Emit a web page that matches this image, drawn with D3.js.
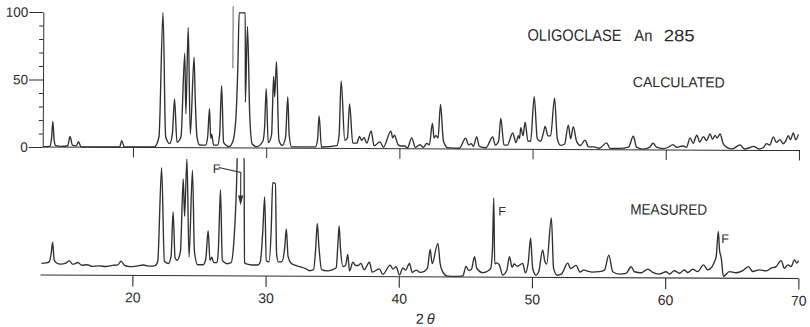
<!DOCTYPE html>
<html><head><meta charset="utf-8">
<script src="https://cdn.jsdelivr.net/npm/d3@7"></script>
<style>
body{margin:0;background:#fff}
svg{display:block}
text{font-family:"Liberation Sans",Arial,sans-serif;fill:#2a2a2a}
</style>
</head><body><svg id="c" width="810" height="327"></svg>
<script>
// ---- data: [2theta, intensity] ----
const calculated = [
[13.3,0.3],[13.75,0.5],[13.88,6],[13.97,19],[14.08,5],[14.2,1],[14.6,0.5],[15.1,1],[15.27,8],[15.45,1.5],[15.75,1],[15.9,4],[16.1,0.3],[19.0,0.3],[19.15,5],[19.35,0.3],
[21.6,0.5],[21.95,8],[22.2,100],[22.45,8],[22.75,3],[22.95,10],[23.1,36],[23.3,4],[23.6,8],[23.85,70],[23.96,25],[24.1,89],[24.3,10],[24.55,67],[24.65,38],[24.8,8],[25.0,2],
[25.45,2],[25.6,8],[25.73,29],[25.83,7],[25.9,10],[26.05,2],[26.35,2],[26.5,10],[26.63,46],[26.8,4],[27.2,1],[27.5,5],[27.7,20],[27.85,64],[27.92,100],[28.38,100],[28.42,34],
[28.55,90],[28.75,25],[28.95,3],[29.3,1],[29.75,5],[29.87,15],[29.98,44],[30.15,4],[30.4,10],[30.53,53],[30.62,38],[30.74,64],[30.95,6],[31.2,2],[31.45,8],[31.6,38],[31.72,10],
[31.9,1],[33.7,1],[33.85,6],[33.96,24],[34.15,1],[35.3,2],[35.47,10],[35.6,50],[35.9,6],[36.1,8],[36.24,33],[36.5,4],[36.8,4],[37.0,9],[37.15,6],[37.35,8],[37.55,4],[37.87,13],
[38.1,2],[38.54,5],[38.8,1],[39.35,13],[39.5,8],[39.62,10],[39.9,3],[40.15,2],[40.4,2],[40.6,0.5],[40.92,8],[41.2,1],[41.55,3],[41.8,1],[42.05,4],[42.25,3],[42.47,19],[42.6,8],
[42.73,10],[42.9,8],[43.07,33],[43.3,6],[43.6,1],[44.5,0.5],[44.97,8],[45.2,3],[45.4,4],[45.55,2],[45.8,9],[46.0,2],[46.5,1],[47.0,9],[47.2,3],[47.45,6],[47.6,23],[47.85,3],
[48.1,3],[48.5,12],[48.75,5],[48.93,10],[49.02,8],[49.1,16],[49.28,10],[49.43,20],[49.65,6],[49.85,6],[50.1,39],[50.35,8],[50.6,6],[50.8,12],[50.93,17],[51.15,10],[51.35,10],
[51.63,38],[51.85,8],[52.1,3],[52.4,4],[52.67,18],[52.85,8],[53.05,17],[53.3,6],[53.6,3],[53.93,7],[54.2,2],[54.6,2],[55.0,1],[55.56,5],[55.8,1],[56.5,1],[57.2,2],[57.56,10],
[57.8,2],[58.3,0.5],[58.8,2],[59.04,5],[59.3,2],[59.8,1],[60.2,2],[60.54,4],[60.8,2],[61.3,3],[61.55,2],[61.82,9],[62.05,5],[62.32,11],[62.55,6],[62.82,10],[63.05,7],[63.32,12],
[63.5,8],[63.7,11],[63.85,9],[64.07,12],[64.3,5],[64.6,2],[65.0,1],[65.57,4],[65.9,1],[66.3,2],[66.57,3],[67.0,1],[67.3,2],[67.57,5],[67.8,4],[68.07,10],[68.3,6],[68.57,8],
[68.8,5],[69.0,7],[69.2,11],[69.35,8],[69.57,13],[69.75,8],[69.95,12]
];
const measured = [
[13.17,10.6],[13.5,11],[13.75,12],[13.9,20],[14.0,30],[14.12,14],[14.3,11],[14.6,10],[15.0,11],[15.27,13],[15.5,10],[15.7,10.5],[15.9,11.5],[16.2,9],[16.6,9.5],[17.0,8],
[17.5,8.5],[18.0,8],[18.5,9],[18.9,9.5],[19.15,13],[19.4,9],[19.8,8],[20.3,8.5],[20.8,9.5],[21.3,8.5],[21.7,9],[21.9,13],[22.15,98],[22.4,13],[22.7,11],[22.9,18],[23.03,58],
[23.2,16],[23.35,14],[23.6,22],[23.78,88],[23.9,54],[24.05,106],[24.25,17],[24.47,96],[24.65,22],[24.9,10],[25.3,10],[25.5,15],[25.67,41],[25.82,14],[25.95,17],[26.1,12],
[26.35,12],[26.45,25],[26.58,78],[26.75,14],[27.1,11],[27.4,12],[27.6,30],[27.78,80],[27.88,130],[28.22,130],[28.32,130],[28.42,12],[28.55,11],[29.0,10],[29.4,10],[29.6,13],
[29.77,40],[29.9,72],[30.05,14],[30.25,13],[30.4,40],[30.5,85],[30.7,84],[30.82,20],[30.95,13],[31.2,13],[31.42,25],[31.54,43],[31.68,18],[31.9,12],[32.2,10],[32.6,8.5],
[33.0,7],[33.3,5],[33.6,6],[33.75,25],[33.86,48],[34.0,26],[34.2,6],[34.6,5],[35.0,6],[35.3,8],[35.42,30],[35.5,46],[35.62,24],[35.8,9],[36.0,10],[36.16,20],[36.3,5],
[36.55,13],[36.75,10],[36.95,10],[37.15,12],[37.4,6],[37.79,13],[38.0,4],[38.54,7],[38.8,2],[39.35,10.5],[39.55,7],[39.8,9],[40.05,1.5],[40.3,8],[40.5,6],[40.8,12],[41.0,4],
[41.3,6],[41.6,4],[41.92,5],[42.15,8],[42.35,25],[42.5,12],[42.92,30.5],[43.1,12],[43.3,4.6],[43.6,1],[44.2,0.5],[44.8,1],[45.05,9.5],[45.25,6],[45.45,7],[45.68,18.5],
[45.85,8],[46.3,4],[46.6,5],[46.9,8],[47.02,25],[47.1,72],[47.2,12],[47.35,13],[47.55,11],[47.8,2],[48.1,6],[48.3,18.7],[48.5,9],[48.65,12],[48.9,10],[49.3,12.6],[49.5,4],
[49.72,14],[49.88,35.5],[50.05,8],[50.3,2],[50.5,5],[50.79,25],[50.95,15],[51.1,12],[51.43,54],[51.62,8],[51.9,2],[52.2,3],[52.68,13],[52.9,8],[53.31,11],[53.6,5],[53.9,7],
[54.1,6],[54.5,5],[55.06,5.4],[55.44,6.9],[55.76,20.5],[56.06,5.4],[56.56,3.3],[57.06,4],[57.44,10],[57.69,5.5],[58.19,4.6],[58.69,8],[59.06,5],[59.56,3.5],[60.07,5.6],
[60.32,3.6],[60.69,6.6],[61.07,4.3],[61.44,7.3],[61.69,5],[62.07,8],[62.44,5.9],[62.87,12],[63.19,7.5],[63.52,10.5],[63.69,15],[63.82,19.5],[63.97,42.5],[64.07,25.8],
[64.2,18.5],[64.37,1.6],[64.82,6],[65.32,5],[65.82,7],[66.25,10.7],[66.57,6.2],[67.07,7.7],[67.57,6.8],[67.95,9.3],[68.32,10.8],[68.7,16.2],[68.95,9.3],[69.2,12.4],
[69.45,10.9],[69.7,17],[69.88,14],[70.0,16.4]
];
const xTickValues = [20,30,40,50,60,70];
const xTickLabels = ["20","30","40","50","60","70"];
const yMajorTicks = [0,50,100];
const yMajorLabels = ["0","50","100"];
const yMinorTicks = [10,20,30,40,60,70,80,90];
const titleWords = ["OLIGOCLASE","An","285"];
const seriesNames = ["CALCULATED","MEASURED"];
const xAxisTitle = ["2","θ"];
const thetaRange = [13.1,70];

// ---- drawing ----
const ink = "#2f2f2f";
const svg = d3.select("#c");
const x  = d3.scaleLinear().domain([20,70]).range([133,799]);
const yC = d3.scaleLinear().domain([0,100]).range([147,12]);
const yM = d3.scaleLinear().domain([0,100]).range([275,165]);

const g = svg.append("g").attr("transform","rotate(0.27,42,147)");

svg.append("defs").append("clipPath").attr("id","mclip")
  .append("rect").attr("x",0).attr("y",yM(107)).attr("width",810).attr("height",327-yM(107));

// left intensity axis
const yAxisMajor = d3.axisLeft(yC).tickValues(yMajorTicks).tickSize(14).tickSizeOuter(0)
  .tickPadding(1).tickFormat((d,i)=>yMajorLabels[i]);
const ya = g.append("g").attr("transform","translate(42.7,0)").call(yAxisMajor);
const yAxisMinor = d3.axisLeft(yC).tickValues(yMinorTicks).tickSize(4).tickSizeOuter(0).tickFormat("");
const ym = g.append("g").attr("transform","translate(42.7,0)").call(yAxisMinor);
[ya,ym].forEach(a=>{
  a.selectAll("path,line").attr("stroke",ink).attr("stroke-width",1);
  a.selectAll("text").attr("font-size",13.5).attr("fill","#333").style("font-family","'Liberation Sans',Arial,sans-serif");
});
ym.select(".domain").remove();

// top (calculated) baseline + ticks
g.append("line").attr("x1",x(thetaRange[0])+1.6).attr("x2",x(thetaRange[1])+1)
  .attr("y1",yC(0)).attr("y2",yC(0)).attr("stroke",ink).attr("stroke-width",1);
const topAxis = d3.axisBottom(x).tickValues(xTickValues).tickSize(10).tickSizeOuter(0).tickFormat("");
const ta = g.append("g").attr("transform",`translate(0,${yC(0)})`).call(topAxis);
ta.select(".domain").remove();
ta.selectAll("line").attr("stroke",ink).attr("stroke-width",1);

// bottom (measured) axis
g.append("line").attr("x1",x(thetaRange[0])).attr("x2",x(thetaRange[1]))
  .attr("y1",yM(0)).attr("y2",yM(0)).attr("stroke",ink).attr("stroke-width",1.1);
const botAxis = d3.axisBottom(x).tickValues(xTickValues).tickSize(11).tickSizeOuter(0)
  .tickPadding(6).tickFormat((d,i)=>xTickLabels[i]);
const ba = g.append("g").attr("transform",`translate(0,${yM(0)})`).call(botAxis);
ba.select(".domain").remove();
ba.selectAll("line").attr("stroke",ink).attr("stroke-width",1.1);
ba.selectAll("text").attr("font-size",14).attr("fill","#333").style("font-family","'Liberation Sans',Arial,sans-serif");

// x-axis title 2θ
const xt = g.append("text").attr("x",x(42.0)).attr("y",yM(0)+47).attr("font-size",14.5).attr("text-anchor","middle");
xt.append("tspan").text(xAxisTitle[0]);
xt.append("tspan").attr("dx",3).attr("font-style","italic").text(xAxisTitle[1]);

// traces
const line = (ys)=>d3.line().x(d=>x(d[0])).y(d=>ys(d[1])).curve(d3.curveMonotoneX);
g.append("path").datum(calculated).attr("d",line(yC))
  .attr("fill","none").attr("stroke",ink).attr("stroke-width",1.35).attr("stroke-linejoin","round");
g.append("g").attr("clip-path","url(#mclip)").append("path").datum(measured).attr("d",line(yM))
  .attr("fill","none").attr("stroke",ink).attr("stroke-width",1.35).attr("stroke-linejoin","round");

// off-scale marker line on calculated pattern
g.append("line").attr("x1",x(27.47)).attr("x2",x(27.47)).attr("y1",yC(105)).attr("y2",yC(59))
  .attr("stroke","#555").attr("stroke-width",0.9);

// F annotations
const fAnn = [{t:26.0,i:93.5},{t:47.45,i:56},{t:64.2,i:32}];
fAnn.forEach(f=>g.append("text").attr("x",x(f.t)).attr("y",yM(f.i)).attr("font-size",12.5).text("F"));
const ax0 = x(26.45), ay0 = yM(98.5), ax1 = x(28.1), ay1 = yM(94), ay2 = yM(64);
g.append("path").attr("d",`M${ax0},${ay0}L${ax1},${ay1}L${ax1},${ay2-8}`)
  .attr("fill","none").attr("stroke",ink).attr("stroke-width",1.1);
g.append("path").attr("d",`M${ax1-2.6},${ay2-10}L${ax1+2.6},${ay2-10}L${ax1},${ay2}Z`).attr("fill",ink);

// titles
const tY = yC(80.5);
const tw = g.append("text").attr("y",tY).attr("font-size",16.5);
tw.append("tspan").attr("x",x(49.58)).attr("textLength",94).attr("lengthAdjust","spacingAndGlyphs").text(titleWords[0]);
tw.append("tspan").attr("x",x(57.6)).attr("textLength",18).attr("lengthAdjust","spacingAndGlyphs").text(titleWords[1]);
tw.append("tspan").attr("x",x(59.8)).attr("textLength",31).attr("lengthAdjust","spacingAndGlyphs").text(titleWords[2]);
g.append("text").attr("x",x(57.5)).attr("y",yC(46.5)).attr("font-size",14.5).attr("textLength",92).attr("lengthAdjust","spacingAndGlyphs").text(seriesNames[0]);
g.append("text").attr("x",x(57.35)).attr("y",yM(57.5)).attr("font-size",15).attr("textLength",77).attr("lengthAdjust","spacingAndGlyphs").text(seriesNames[1]);
</script>
</body></html>
